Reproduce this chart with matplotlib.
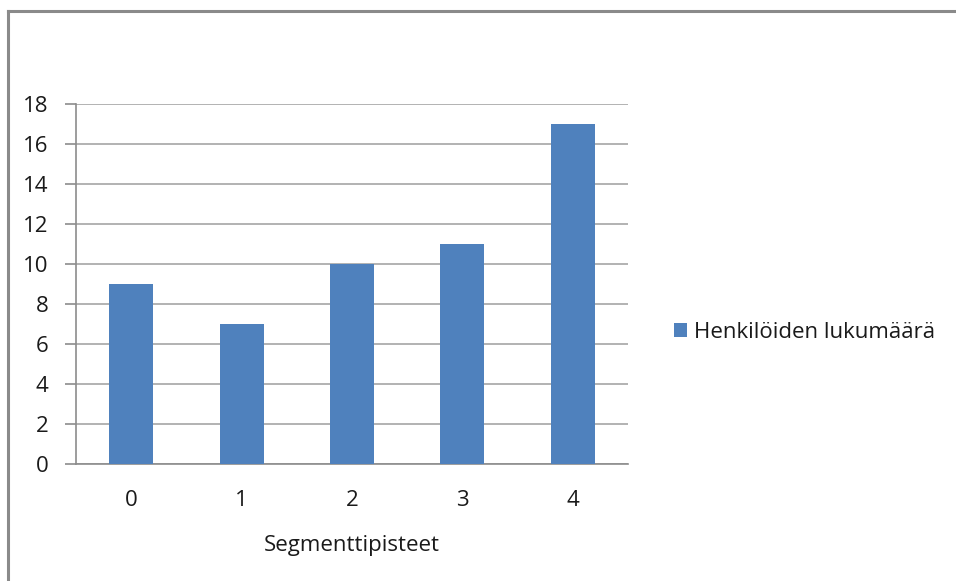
import matplotlib.pyplot as plt
from matplotlib.lines import Line2D
from matplotlib.patches import Patch

categories = ["0", "1", "2", "3", "4"]
values = [9, 7, 10, 11, 17]
series_name = "Henkilöiden lukumäärä"
x_title = "Segmenttipisteet"
y_ticks = list(range(0, 20, 2))

W, H = 956, 581
fig = plt.figure(figsize=(W / 100, H / 100), dpi=100)
plt.rcParams['font.family'] = ['Open Sans', 'DejaVu Sans']

# plot area in pixel coordinates
left, right, top, bottom = 76, 628, 104, 464
ax = fig.add_axes([left / W, 1 - bottom / H, (right - left) / W, (bottom - top) / H])

bar_color = "#4F81BD"
grid_color = "#A6A6A6"
axis_color = "#8C8C8C"
text_color = "#1A1A1A"
fs = 16

xs = range(len(categories))
ax.bar(xs, values, width=0.4, color=bar_color, zorder=3)
ax.set_xlim(-0.5, len(categories) - 0.5)
ax.set_ylim(0, 18)
ax.set_yticks(y_ticks)
ax.set_xticks(list(xs))
ax.set_xticklabels(categories)
ax.grid(axis='y', color=grid_color, linewidth=1.2, zorder=0)
for s in ['top', 'right']:
    ax.spines[s].set_visible(False)
for s in ['left', 'bottom']:
    ax.spines[s].set_color(axis_color)
    ax.spines[s].set_linewidth(1.2)
ax.tick_params(axis='y', length=8, width=1.2, color=axis_color, labelsize=fs,
               pad=12, labelcolor=text_color)
ax.tick_params(axis='x', length=0, labelsize=fs, pad=19, labelcolor=text_color)
ax.set_xlabel(x_title, fontsize=fs, labelpad=17, color=text_color)

# legend to the right of the plot area
handle = Patch(facecolor=bar_color, edgecolor='none')
fig.legend([handle], [series_name], loc='center left',
           bbox_to_anchor=(654 / W, 1 - 332 / H), frameon=False,
           fontsize=fs, handlelength=0.6, handleheight=0.6,
           handletextpad=0.3, labelcolor=text_color)

# outer chart border (top and left edges visible)
fig.add_artist(Line2D([7.5 / W, 1.1], [1 - 11 / H, 1 - 11 / H], transform=fig.transFigure,
                      color="#8A8A8A", linewidth=2.2))
fig.add_artist(Line2D([7.5 / W, 7.5 / W], [-0.1, 1 - 11 / H], transform=fig.transFigure,
                      color="#8A8A8A", linewidth=2.2))

fig.savefig("out.png", dpi=100)
